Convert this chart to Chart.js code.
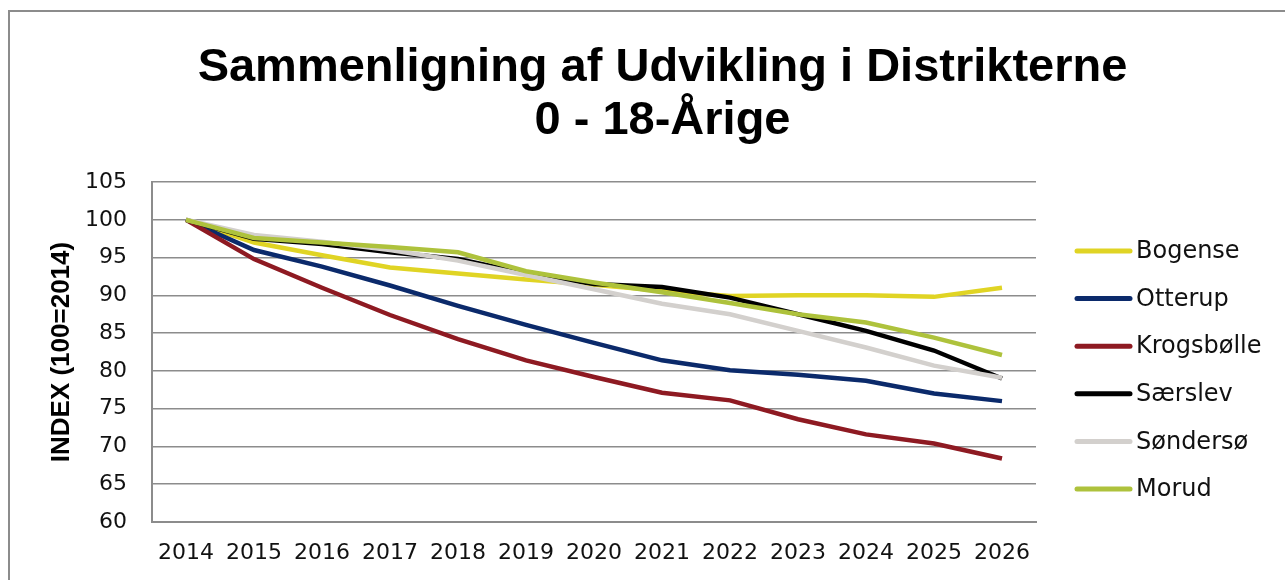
<!DOCTYPE html>
<html>
<head>
<meta charset="utf-8">
<script src="https://cdn.jsdelivr.net/npm/chart.js@4.4.1/dist/chart.umd.min.js"></script>
<style>
  html, body { margin: 0; padding: 0; background: #fff; }
  .frame {
    position: absolute; left: 8px; top: 10px; right: 0; bottom: 0;
    border-left: 2px solid #8c8c8c; border-top: 2px solid #8c8c8c;
  }
  .wrap { position: absolute; left: 0; top: 0; width: 1285px; height: 580px; }
</style>
</head>
<body>
<div class="frame"></div>
<div class="wrap"><canvas id="chart"></canvas></div>
<script>
const years = ['2014', '2015', '2016', '2017', '2018', '2019', '2020', '2021', '2022', '2023', '2024', '2025', '2026'];

const bogense    = [100, 97.0, 95.3, 93.7, 92.9, 92.1, 91.4, 90.6, 89.9, 90.0, 90.0, 89.8, 91.0];
const otterup    = [100, 96.0, 93.8, 91.3, 88.6, 86.1, 83.7, 81.4, 80.1, 79.5, 78.7, 77.0, 76.0];
const krogsbolle = [100, 94.8, 91.0, 87.4, 84.2, 81.4, 79.2, 77.1, 76.1, 73.6, 71.6, 70.4, 68.4];
const saerslev   = [100, 97.5, 96.8, 95.7, 94.8, 92.9, 91.5, 91.1, 89.7, 87.5, 85.3, 82.7, 79.0];
const sondersoe  = [100, 98.0, 97.1, 96.0, 94.6, 92.7, 90.8, 88.9, 87.5, 85.3, 83.1, 80.7, 79.1];
const morud      = [100, 97.6, 97.0, 96.4, 95.7, 93.2, 91.7, 90.4, 89.0, 87.5, 86.4, 84.4, 82.1];

const seriesNames = ['Bogense', 'Otterup', 'Krogsbølle', 'Særslev', 'Søndersø', 'Morud'];
const seriesData = [bogense, otterup, krogsbolle, saerslev, sondersoe, morud];
const seriesColors = ['#e0d424', '#0b2a6b', '#8e1a22', '#000000', '#d3d0cd', '#aec23c'];

const FONT = "'DejaVu Sans', sans-serif";
const BOLD = "'Liberation Sans', Arial, sans-serif";

// legend drawn at the right, like the original
const sideLegend = {
  id: 'sideLegend',
  afterDraw(chart) {
    const ctx = chart.ctx;
    ctx.save();
    ctx.font = '24px ' + FONT;
    ctx.textBaseline = 'middle';
    ctx.textAlign = 'left';
    chart.data.datasets.forEach((ds, i) => {
      const y = 251 + i * 47.6;
      ctx.strokeStyle = ds.borderColor;
      ctx.lineWidth = 5;
      ctx.lineCap = 'round';
      ctx.beginPath();
      ctx.moveTo(1077, y);
      ctx.lineTo(1130, y);
      ctx.stroke();
      ctx.fillStyle = '#111';
      ctx.fillText(ds.label, 1136, y + 1);
    });
    ctx.restore();
  }
};

new Chart(document.getElementById('chart').getContext('2d'), {
  type: 'line',
  data: {
    labels: years,
    datasets: seriesNames.map((name, i) => ({
      label: name,
      data: seriesData[i],
      borderColor: seriesColors[i],
      backgroundColor: seriesColors[i],
      borderWidth: 4.5,
      pointRadius: 0,
      tension: 0,
      order: seriesNames.length - i
    }))
  },
  options: {
    responsive: true,
    maintainAspectRatio: false,
    animation: false,
    layout: { padding: { left: 40, right: 0, top: 0, bottom: 0 } },
    plugins: {
      legend: { display: false },
      tooltip: { enabled: false },
      title: {
        display: true,
        text: ['Sammenligning af Udvikling i Distrikterne', '0 - 18-Årige'],
        color: '#000',
        font: { family: BOLD, size: 47, weight: 'bold', lineHeight: 1.128 },
        padding: { top: 42, bottom: 34 }
      }
    },
    scales: {
      x: {
        offset: true,
        grid: { display: false, drawTicks: false },
        border: { display: true, color: '#8c8c8c', width: 2 },
        ticks: { color: '#111', font: { family: FONT, size: 22 }, padding: 18, maxRotation: 0, autoSkip: false },
        afterFit(scale) { scale.height = 58; }
      },
      y: {
        min: 60,
        max: 105,
        ticks: { stepSize: 5, color: '#111', font: { family: FONT, size: 22 }, padding: 25 },
        grid: { color: '#8c8c8c', lineWidth: 1.5, drawTicks: false },
        border: { display: true, color: '#8c8c8c', width: 2 },
        title: {
          display: true,
          text: 'INDEX (100=2014)',
          color: '#000',
          font: { family: BOLD, size: 26, weight: 'bold', lineHeight: 1.2 },
          padding: { top: 6, bottom: 0 }
        },
        afterFit(scale) { scale.width = 112; }
      },
      // empty right-hand axis that keeps room for the legend
      side: {
        type: 'linear',
        position: 'right',
        display: true,
        min: 60,
        max: 105,
        grid: { display: false, drawTicks: false },
        border: { display: false },
        ticks: { display: false },
        afterFit(scale) { scale.width = 249; }
      }
    }
  },
  plugins: [sideLegend]
});
</script>
</body>
</html>
